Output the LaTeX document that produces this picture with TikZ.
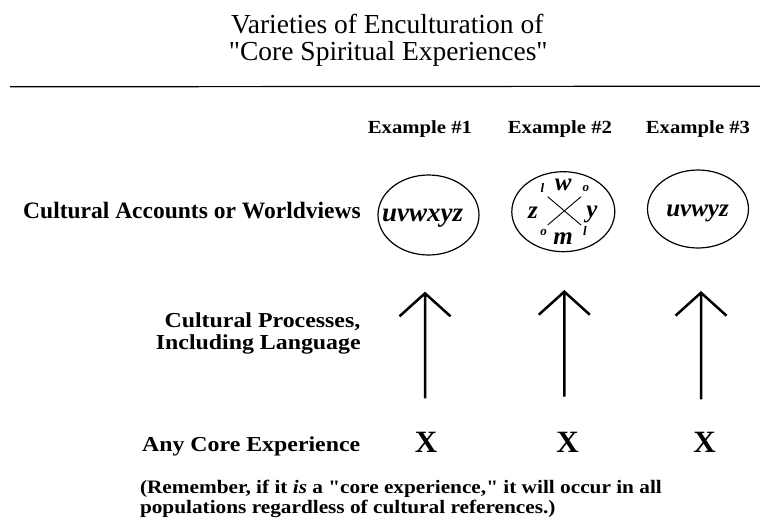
\documentclass[tikz,border=0pt]{standalone}
\usepackage{fontspec}
\setmainfont{Liberation Serif}
\newfontfamily\titlef{Liberation Serif}
\newfontfamily\widef[FakeStretch=1.12]{Liberation Serif}
\usetikzlibrary{shapes.geometric}
\begin{document}
\begin{tikzpicture}[x=1pt,y=-1pt,
  every node/.style={inner sep=0pt, outer sep=0pt},
  titletext/.style={anchor=base, font=\titlef\fontsize{27.5}{31}\selectfont},
  exlabel/.style={anchor=base, font=\widef\bfseries\fontsize{18.5}{22}\selectfont},
  rowlabel/.style={anchor=base east, font=\widef\bfseries\fontsize{21.3}{24}\selectfont},
  toplabel/.style={anchor=base east, font=\bfseries\fontsize{23.5}{26}\selectfont},
  world/.style={ellipse, draw, line width=1.2pt, minimum width=101pt, minimum height=80pt},
  worldtext/.style={anchor=base, font=\bfseries\itshape\fontsize{27}{30}\selectfont},
  bigletter/.style={anchor=base, font=\bfseries\itshape\fontsize{25}{28}\selectfont},
  smallletter/.style={anchor=base, font=\bfseries\itshape\fontsize{13}{15}\selectfont},
  crossline/.style={line width=0.9pt},
  xmark/.style={anchor=base, font=\bfseries\fontsize{31}{34}\selectfont},
  arrowline/.style={line width=2.5pt, line join=miter, line cap=butt},
  note/.style={anchor=base west, font=\widef\bfseries\fontsize{19}{22}\selectfont},
  rule/.style={line width=1.2pt}
]
\useasboundingbox (0,0) rectangle (760,530);

% Title
\node[titletext] (title1) at (387.2,33.3) {Varieties of Enculturation of};
\node[titletext] (title2) at (388.3,60.7) {"Core Spiritual Experiences"};
\coordinate (ruleL) at (10,86.8);
\coordinate (ruleR) at (760,86.2);
\draw[rule] (ruleL) -- (ruleR);

% Example headers
\node[exlabel] (ex1) at (420,133.3) {Example \#1};
\node[exlabel] (ex2) at (560,133.3) {Example \#2};
\node[exlabel] (ex3) at (698,133.3) {Example \#3};

% Row labels
\node[toplabel] (lab1) at (360.7,218) {Cultural Accounts or Worldviews};
\node[rowlabel] (lab2a) at (360.3,327.5) {Cultural Processes,};
\node[rowlabel] (lab2b) at (360.7,349.5) {Including Language};
\node[rowlabel] (lab3) at (360.3,451) {Any Core Experience};

% Ellipses
\node[world] (e1) at (428.5,215) {};
\node[world, minimum width=103pt] (e2) at (563.3,211.7) {};
\node[world, minimum height=78pt] (e3) at (698,209) {};

\node[worldtext] (t1) at (422.5,221.7) {uvwxyz};
\node[worldtext, font=\bfseries\itshape\fontsize{25}{28}\selectfont] (t3) at (697.5,216.7) {uvwyz};

% Example 2 contents
\draw[crossline] (547.7,196.7) -- (581,225);
\draw[crossline] (581,196.7) -- (547.7,225);
\node[bigletter] (lw) at (563.3,190.7) {w};
\node[bigletter] (lz) at (533,218.2) {z};
\node[bigletter] (ly) at (592,217.3) {y};
\node[bigletter] (lm) at (563,244) {m};
\node[smallletter] (sl1) at (542.3,192.7) {l};
\node[smallletter] (so1) at (585.8,191.7) {o};
\node[smallletter] (so2) at (543.5,235) {o};
\node[smallletter] (sl2) at (585,235) {l};

% Core experience marks
\node[xmark] (x1) at (426,452.5) {X};
\node[xmark] (x2) at (567.5,452.5) {X};
\node[xmark] (x3) at (704.5,452.5) {X};

% Arrows
\coordinate (a1b) at (425,398.3);
\coordinate (a1t) at (425,293.3);
\coordinate (a2b) at (564.3,396.7);
\coordinate (a2t) at (564.3,291.7);
\coordinate (a3b) at (701,399.3);
\coordinate (a3t) at (701,292.7);
\draw[arrowline] (a1b) -- (a1t) (a1t) ++(-25.5,23) -- (a1t) -- ++(25.5,23);
\draw[arrowline] (a2b) -- (a2t) (a2t) ++(-25.5,23) -- (a2t) -- ++(25.5,23);
\draw[arrowline] (a3b) -- (a3t) (a3t) ++(-25.5,23) -- (a3t) -- ++(25.5,23);

% Note
\node[note] (n1) at (140,493.3) {(Remember, if it \textit{is} a "core experience," it will occur in all};
\node[note] (n2) at (140,513.3) {populations regardless of cultural references.)};
\end{tikzpicture}
\end{document}
